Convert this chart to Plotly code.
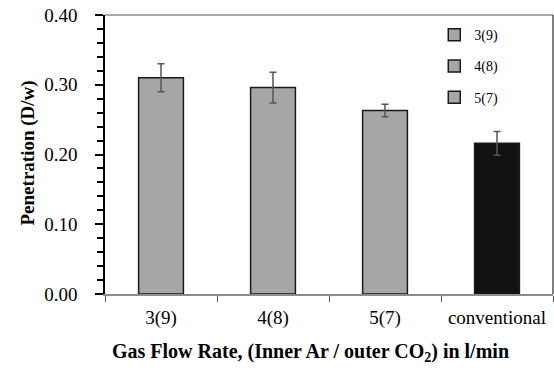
import plotly.graph_objects as go

categories = ["3(9)", "4(8)", "5(7)", "conventional"]
penetration = [0.310, 0.296, 0.263, 0.216]
error = [0.020, 0.022, 0.009, 0.017]
legend_names = ["3(9)", "4(8)", "5(7)", None]
y_ticks = [0.0, 0.1, 0.2, 0.3, 0.4]
y_tick_labels = ["0.00", "0.10", "0.20", "0.30", "0.40"]

FONT = "Liberation Serif"
colors = ["#a6a6a6", "#a6a6a6", "#a6a6a6", "#111111"]

fig = go.Figure()
for i, cat in enumerate(categories):
    fig.add_trace(go.Bar(
        x=[cat], y=[penetration[i]],
        name=legend_names[i] if legend_names[i] else cat,
        showlegend=legend_names[i] is not None,
        legendgroup=str(i),
        marker=dict(color=colors[i], line=dict(color="#1a1a1a", width=1.5)),
        width=0.4,
        error_y=dict(type="data", array=[error[i]], visible=True,
                     color="#555555", thickness=1.5, width=3.5),
    ))

fig.update_layout(
    width=554, height=374,
    margin=dict(l=105, r=1, t=15, b=80),
    paper_bgcolor="white", plot_bgcolor="white",
    font=dict(family=FONT, size=19, color="black"),
    showlegend=True,
    legend=dict(x=0.735, y=0.985, xanchor="left", yanchor="top",
                font=dict(family=FONT, size=14), tracegroupgap=10,
                bgcolor="rgba(0,0,0,0)"),
    xaxis=dict(
        type="category", categoryarray=categories,
        range=[-0.5, 3.5],
        showline=True, linecolor="#8c8c8c", linewidth=1.5,
        ticks="outside", tickson="boundaries", ticklen=6, tickcolor="#555555",
        tickfont=dict(family=FONT, size=19),
        ticklabelstandoff=5,
        showgrid=False, zeroline=False,
    ),
    yaxis=dict(
        range=[0, 0.4],
        tickvals=y_ticks, ticktext=y_tick_labels,
        showline=True, linecolor="black", linewidth=1.5,
        ticks="outside", ticklen=8, tickcolor="black", tickwidth=1.5,
        minor=dict(dtick=0.02, ticks="outside", ticklen=6, tickcolor="black", tickwidth=1.5),
        tickfont=dict(family=FONT, size=19),
        ticklabelstandoff=14,
        showgrid=False, zeroline=False,
    ),
    annotations=[
        dict(text="<b>Gas Flow Rate, (Inner Ar / outer CO<sub>2</sub>) in l/min</b>",
             xref="paper", yref="paper", x=0.011, y=-0.208,
             xanchor="left", yanchor="middle", showarrow=False,
             font=dict(family=FONT, size=20)),
        dict(text="<b>Penetration (D/w)</b>", textangle=-90,
             xref="paper", yref="paper", x=-0.172, y=0.24,
             xanchor="center", yanchor="bottom", showarrow=False,
             font=dict(family=FONT, size=19)),
    ],
    shapes=[dict(type="line", xref="paper", yref="paper", x0=0, x1=1, y0=1, y1=1,
                 line=dict(color="#8c8c8c", width=1.5)),
            dict(type="line", xref="paper", yref="paper", x0=1, x1=1, y0=0, y1=1,
                 line=dict(color="#555555", width=1.5))],
)

fig.write_html("out.html", config={"displayModeBar": False},
               post_script="document.body.style.margin='0';")
